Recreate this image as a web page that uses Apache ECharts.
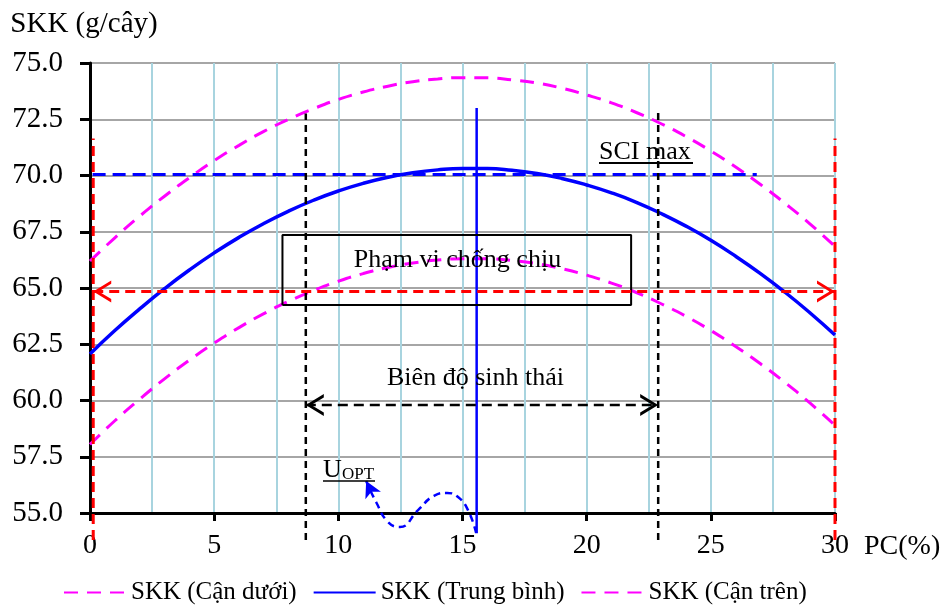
<!DOCTYPE html>
<html><head><meta charset="utf-8">
<script src="https://cdn.jsdelivr.net/npm/echarts@6/dist/echarts.min.js"></script>
<style>html,body{margin:0;padding:0;background:#fff}#c{width:950px;height:608px}</style>
</head><body><div id="c"></div>
<script>
// ---- data ----
const xValues     = [0, 1, 2, 3, 4, 5, 6, 7, 8, 9, 10, 11, 12, 13, 14, 15, 16, 17, 18, 19, 20, 21, 22, 23, 24, 25, 26, 27, 28, 29, 30];
const lowerValues = [58.05, 59.10, 60.06, 60.96, 61.79, 62.55, 63.24, 63.86, 64.41, 64.89, 65.30, 65.64, 65.91, 66.11, 66.24, 66.30,
                     66.30, 66.22, 66.08, 65.86, 65.57, 65.22, 64.80, 64.30, 63.74, 63.11, 62.40, 61.63, 60.79, 59.88, 58.90];
const meanValues  = [62.07, 63.11, 64.07, 64.97, 65.80, 66.56, 67.25, 67.87, 68.42, 68.90, 69.31, 69.65, 69.92, 70.12, 70.25, 70.31,
                     70.31, 70.23, 70.09, 69.87, 69.58, 69.23, 68.81, 68.31, 67.75, 67.12, 66.41, 65.64, 64.80, 63.89, 62.91];
const upperValues = [66.20, 67.23, 68.19, 69.08, 69.90, 70.66, 71.34, 71.96, 72.50, 72.97, 73.38, 73.71, 73.97, 74.17, 74.29, 74.35,
                     74.34, 74.25, 74.11, 73.88, 73.58, 73.23, 72.80, 72.30, 71.73, 71.09, 70.38, 69.60, 68.75, 67.84, 66.85];
const seriesNames = ['SKK (Cận dưới)', 'SKK (Trung bình)', 'SKK (Cận trên)'];
const yName = 'SKK (g/cây)';
const xName = 'PC(%)';

// annotation values (data units)
const optX = 15.57, optRange = [54.1, 73.0];
const sciMaxY = 70.05, sciMaxRange = [-0.7, 26.85];
const tolY = 64.85, tolRange = [0.13, 30];
const redVX = [0.13, 30], redVRange = [53.8, 71.65];
const blackVX = [8.69, 22.88], blackVTop = [72.76, 72.99], blackVBottom = 53.8;
const ampY = 59.8;
const boxX = [7.75, 21.79], boxY = [64.24, 67.36];
const uoptCurve = [[15.55,54.11],[15.22,55.13],[14.82,55.71],[14.38,55.89],[13.85,55.76],[13.21,55.13],[12.48,54.38],[12.0,54.6],[11.52,55.49],[11.12,56.42]];

const FONT = 'Liberation Serif, Times New Roman, serif';
const chevL = 'path://M18,0 L0,11 L18,22 L18,18.6 L5.5,11 L18,3.4 Z';
const chevR = 'path://M0,0 L18,11 L0,22 L0,18.6 L12.5,11 L0,3.4 Z';

function pair(xs, ys) { return xs.map((x, i) => [x, ys[i]]); }
function plainLine(data, color, width, type, z) {
  return { type: 'line', data, symbol: 'none', clip: false, silent: true, z: z || 3,
           lineStyle: { color, width, type }, animation: false, legendHoverLink: false };
}
function arrowLine(x0, x1, y, color, width, dash) {
  return { type: 'line', clip: false, silent: true, z: 4, animation: false,
    lineStyle: { color, width, type: dash },
    itemStyle: { color },
    data: [
      { value: [x0, y], symbol: chevL, symbolSize: [18, 22], symbolOffset: [9, 0] },
      { value: [x1, y], symbol: chevR, symbolSize: [18, 22], symbolOffset: [-9, 0] }
    ] };
}

const series = [
  { name: seriesNames[0], type: 'line', data: pair(xValues, lowerValues), smooth: true, symbol: 'none', showSymbol: false, clip: false,
    lineStyle: { color: '#ff00ff', width: 3, type: [14, 9] }, itemStyle: { color: '#ff00ff' }, z: 3 },
  { name: seriesNames[1], type: 'line', data: pair(xValues, meanValues), smooth: true, symbol: 'none', showSymbol: false, clip: false,
    lineStyle: { color: '#0000ff', width: 3.5, type: 'solid' }, itemStyle: { color: '#0000ff' }, z: 3 },
  { name: seriesNames[2], type: 'line', data: pair(xValues, upperValues), smooth: true, symbol: 'none', showSymbol: false, clip: false,
    lineStyle: { color: '#ff00ff', width: 3, type: [14, 9] }, itemStyle: { color: '#ff00ff' }, z: 3 },
  plainLine([[sciMaxRange[0], sciMaxY], [sciMaxRange[1], sciMaxY]], '#0000ff', 3, [13, 7]),
  plainLine([[optX, optRange[0]], [optX, optRange[1]]], '#0000ff', 2.5, 'solid'),
  plainLine([[redVX[0], redVRange[0]], [redVX[0], redVRange[1]]], '#ff0000', 3, [10, 6]),
  plainLine([[redVX[1], redVRange[0]], [redVX[1], redVRange[1]]], '#ff0000', 3, [10, 6]),
  plainLine([[blackVX[0], blackVBottom], [blackVX[0], blackVTop[0]]], '#000000', 2.5, [7, 5]),
  plainLine([[blackVX[1], blackVBottom], [blackVX[1], blackVTop[1]]], '#000000', 2.5, [7, 5]),
  plainLine([[boxX[0], boxY[0]], [boxX[1], boxY[0]], [boxX[1], boxY[1]], [boxX[0], boxY[1]], [boxX[0], boxY[0]]], '#000000', 2, 'solid'),
  arrowLine(tolRange[0], tolRange[1], tolY, '#ff0000', 3, [10, 6]),
  arrowLine(blackVX[0], blackVX[1], ampY, '#000000', 2.5, [10, 6]),
  { type: 'line', clip: false, silent: true, z: 4, animation: false, smooth: 0.5,
    lineStyle: { color: '#0000ff', width: 2.5, type: [7, 5] }, itemStyle: { color: '#0000ff' },
    data: uoptCurve.map((p, i) => i === uoptCurve.length - 1
      ? { value: p, symbol: 'arrow', symbolSize: [13, 16], symbolRotate: 26 }
      : { value: p, symbol: 'none' }) }
];

const chart = echarts.init(document.getElementById('c'), null, { renderer: 'canvas' });
chart.setOption({
  backgroundColor: '#ffffff',
  animation: false,
  grid: { left: 90, right: 115, top: 63, bottom: 95, containLabel: false, outerBoundsMode: 'none' },
  legend: {
    data: seriesNames,
    left: 58, top: 575, itemWidth: 62, itemHeight: 14, itemGap: 16,
    itemStyle: { opacity: 0, borderWidth: 0 },
    textStyle: { fontFamily: FONT, fontSize: 25, color: '#000' }
  },
  xAxis: [
    { type: 'value', min: 0, max: 30, interval: 5,
      name: xName, nameLocation: 'end', nameGap: 29,
      nameTextStyle: { fontFamily: FONT, fontSize: 28, color: '#000', align: 'left', verticalAlign: 'top', padding: [20, 0, 0, 0] },
      axisLine: { show: true, onZero: false, lineStyle: { color: '#000', width: 3 } },
      axisTick: { show: true, length: 8, lineStyle: { color: '#000', width: 3 } },
      axisLabel: { fontFamily: FONT, fontSize: 28, color: '#000', margin: 19 },
      splitLine: { show: false } },
    { type: 'value', min: 0, max: 30, interval: 2.5, position: 'bottom',
      axisLine: { show: false }, axisTick: { show: false }, axisLabel: { show: false },
      splitLine: { show: true, lineStyle: { color: '#a8d4df', width: 2 } } }
  ],
  yAxis: {
    type: 'value', min: 55, max: 75, interval: 2.5,
    name: yName, nameLocation: 'end', nameGap: 24,
    nameTextStyle: { fontFamily: FONT, fontSize: 29, color: '#000', align: 'center', padding: [0, 12, 0, 0] },
    axisLine: { show: true, onZero: false, lineStyle: { color: '#000', width: 3 } },
    axisTick: { show: true, length: 10, lineStyle: { color: '#000', width: 3 } },
    axisLabel: { fontFamily: FONT, fontSize: 29, color: '#000', margin: 27, formatter: v => v.toFixed(1) },
    splitLine: { show: true, lineStyle: { color: '#a6a6a6', width: 2 } }
  },
  series,
  graphic: [
    { type: 'text', left: 599, top: 139, z: 100, style: { text: 'SCI max', fontFamily: FONT, fontSize: 26, fill: '#000' } },
    { type: 'line', z: 100, shape: { x1: 599, y1: 163, x2: 693, y2: 163 }, style: { stroke: '#000', lineWidth: 2 } },
    { type: 'text', x: 457.5, y: 260.5, z: 100, style: { text: 'Phạm vi chống chịu', fontFamily: FONT, fontSize: 26, fill: '#000', align: 'center', verticalAlign: 'middle' } },
    { type: 'text', x: 475.5, y: 378.5, z: 100, style: { text: 'Biên độ sinh thái', fontFamily: FONT, fontSize: 26, fill: '#000', align: 'center', verticalAlign: 'middle' } },
    { type: 'text', x: 323, y: 470.5, z: 100, style: { text: 'U', fontFamily: FONT, fontSize: 26, fill: '#000', align: 'left', verticalAlign: 'middle' } },
    { type: 'text', x: 342, y: 474.5, z: 100, style: { text: 'OPT', fontFamily: FONT, fontSize: 17, fill: '#000', align: 'left', verticalAlign: 'middle' } },
    { type: 'line', z: 100, shape: { x1: 323, y1: 481, x2: 375, y2: 481 }, style: { stroke: '#000', lineWidth: 1.5 } }
  ]
});
</script></body></html>
